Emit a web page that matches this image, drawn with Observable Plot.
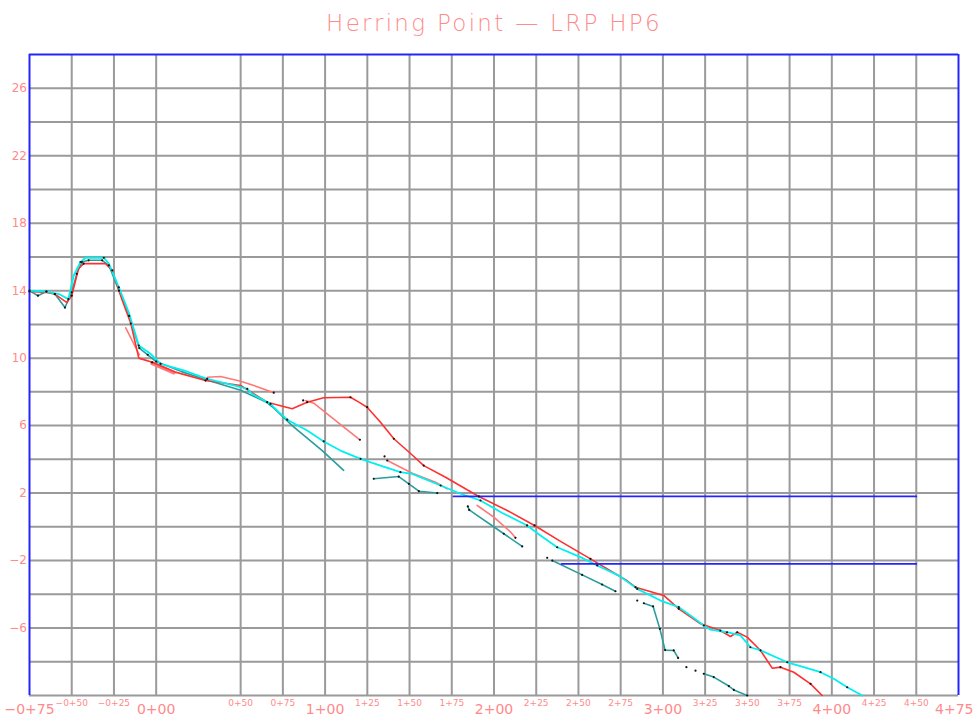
<!DOCTYPE html>
<html>
<head>
<meta charset="utf-8">
<script src="https://cdn.jsdelivr.net/npm/d3@7"></script>
<script src="https://cdn.jsdelivr.net/npm/@observablehq/plot@0.6"></script>
<style>
  html, body { margin: 0; padding: 0; background: #fff; }
  #chart svg { display: block; }
</style>
</head>
<body>
<div id="chart"></div>
<script>
// ---- data (station in ft, elevation in ft) ----
const titleText = "Herring Point — LRP HP6";

const xMajorTicks = [-75, 0, 100, 200, 300, 400];
const xEndTick = [475];
const xMinorTicks = [-50, -25, 50, 75, 125, 150, 175, 225, 250, 275, 325, 350, 375, 425, 450];
const xGridTicks = [-50, -25, 0, 50, 75, 100, 125, 150, 175, 200, 225, 250, 275, 300, 325, 350, 375, 400, 425, 450];
const yLabelTicks = [26, 22, 18, 14, 10, 6, 2, -2, -6];
const yGridTicks = [-10, -8, -6, -4, -2, 0, 2, 4, 6, 8, 10, 12, 14, 16, 18, 20, 22, 24, 26];

const redProfile = [[-75,13.95],[-65,13.9],[-60,13.8],[-53,13.3],[-50,13.7],[-46,15.3],[-43,15.6],[-30,15.6],[-26,15.2],[-20,13.4],[-15,12.05],[-10.3,10.0],[-2.4,9.75],[11.4,9.17],[29.2,8.67],[50,8.38],[65.7,7.39],[80.5,7.0],[89.4,7.39],[99.2,7.65],[115,7.68],[120,7.39],[124.9,7.09],[132.8,6.2],[140.7,5.22],[150.1,4.39],[158.4,3.63],[171.3,2.94],[191,1.8],[207.8,0.97],[224,0.08],[239.4,-0.86],[257.1,-1.9],[278.8,-3.2],[283.8,-3.58],[300.5,-4.07],[309.4,-4.86],[322.3,-5.75],[334,-6.15],[340,-6.5],[344,-6.25],[349.9,-6.54],[357.8,-7.33],[364.7,-8.38],[369.6,-8.32],[377.5,-8.62],[387.4,-9.31],[394.3,-10]];

const cyanProfile = [[-75,14.0],[-65,13.95],[-57.6,13.8],[-52,13.5],[-48.8,14.9],[-44.8,15.7],[-41.8,15.95],[-31,15.95],[-28,15.6],[-22.1,14.2],[-16.2,12.7],[-10.3,10.75],[-3.4,10.26],[2.6,9.66],[16.3,9.27],[30.2,8.77],[46,8.38],[53.9,8.18],[56.8,7.88],[67.7,7.29],[72.6,6.8],[77.6,6.35],[89.4,5.71],[99.2,5.06],[109.1,4.52],[121,4.03],[132.8,3.63],[144.6,3.24],[151.6,3.14],[168.4,2.45],[180.2,1.96],[192,1.56],[204.9,0.82],[219.6,0.08],[227.5,-0.52],[237.4,-1.21],[251.2,-1.8],[261.1,-2.29],[273.9,-2.89],[284.8,-3.68],[298.6,-4.37],[309.4,-4.76],[316.3,-5.26],[324.2,-5.85],[328.2,-6.1],[338,-6.25],[345.9,-6.44],[351.8,-7.14],[357.8,-7.33],[373.6,-8.03],[383.4,-8.32],[393.3,-8.62],[401.2,-9.01],[409.1,-9.51],[418,-10]];

const tealProfile1 = [[-75,14.0],[-70,13.7],[-65,13.95],[-60,13.8],[-54,13.0],[-50,13.9],[-47,15.0],[-44,15.7],[-40,15.8],[-32,15.8],[-28,15.5],[-22,14.0],[-16,12.5],[-10,10.6],[-5,10.2],[0,9.8],[15,9.2],[30,8.7],[50,8.1],[65,7.4],[70,7.0],[80.5,6.0],[98.3,4.52],[111,3.35]];
const tealProfile2 = [[128.8,2.85],[143.6,2.98],[149.6,2.55],[155.5,2.11],[166.4,2.0]];
const tealProfile3 = [[184.5,1.21],[185.3,1.0],[205.8,-0.41],[216.7,-1.16]];
const tealProfile4 = [[234.5,-2.0],[252.2,-2.85],[264,-3.42],[271.9,-3.82]];
const tealProfile5 = [[288.7,-4.53],[294.2,-4.72],[298.2,-6.05],[301.3,-7.31],[306.4,-7.33],[309,-7.77]];
const tealProfile6 = [[324.2,-8.71],[330.1,-8.91],[339,-9.44],[342,-9.67],[349.9,-10.0]];

const pinkProfile1 = [[-18,11.8],[-10,10.2]];
const pinkProfile2 = [[-2.4,9.7],[10.4,9.15]];
const pinkProfile3 = [[30.2,8.87],[38.1,8.91],[50,8.63],[57.8,8.38],[69.6,7.95]];
const pinkProfile4 = [[88.4,7.49],[93.3,7.33],[104.2,6.46],[120.6,5.16]];
const pinkProfile5 = [[136.8,3.93],[151.6,3.18],[165.4,2.64],[172.3,2.25]];
const pinkProfile6 = [[190,1.27],[192,1.13],[199.9,0.57],[209.8,-0.31],[212.7,-0.65]];

const loneDots = [[87,7.49],[135.2,4.17],[231.5,-1.84],[284.8,-4.37],[313.9,-8.32],[319.3,-8.53]];

const blueLine1 = [[176,1.8],[450,1.8]];
const blueLine2 = [[240,-2.2],[450,-2.2]];

// ---- styles ----
const RED = "#ff3030", CYAN = "#00f0f0", TEAL = "#2a9d9d", PINK = "#ff7878", BLUE = "#2424ff", GRID = "#9a9a9a", LABEL = "#ff8a8a";

const fmtSta = v => {
  const a = Math.abs(v);
  const s = Math.floor(a / 100) + "+" + String(a % 100).padStart(2, "0");
  return v < 0 ? "\u2212" + s : s;
};
const fmtY = v => v < 0 ? "\u2212" + Math.abs(v) : String(v);

const X = d => d[0], Y = d => d[1];
const line = (pts, stroke, w) => Plot.line(pts, {x: X, y: Y, stroke, strokeWidth: w, strokeLinejoin: "round", strokeLinecap: "round"});

const tealSets = [tealProfile1, tealProfile2, tealProfile3, tealProfile4, tealProfile5, tealProfile6];
const pinkSets = [pinkProfile1, pinkProfile2, pinkProfile3, pinkProfile4, pinkProfile5, pinkProfile6];
const dotPts = [].concat(tealProfile1.slice(0, 16), tealProfile2, tealProfile3, tealProfile4, tealProfile5, tealProfile6,
  redProfile.filter((d, i) => i % 2 === 0), cyanProfile.filter((d, i) => i % 2 === 1), loneDots,
  [pinkProfile3[4], pinkProfile4[3], pinkProfile5[0], pinkProfile6[4]]);

const chart = Plot.plot({
  width: 974,
  height: 717,
  marginLeft: 29,
  marginRight: 16,
  marginTop: 54,
  marginBottom: 22,
  style: {fontFamily: "'DejaVu Sans', sans-serif", background: "#fff"},
  x: {domain: [-75, 475], axis: null},
  y: {domain: [-10, 28], axis: null},
  marks: [
    Plot.ruleY(yGridTicks, {stroke: GRID, strokeWidth: 2}),
    Plot.ruleX(xGridTicks, {stroke: GRID, strokeWidth: 2}),
    Plot.ruleY([28], {stroke: BLUE, strokeWidth: 2}),
    Plot.ruleX([-75, 475], {stroke: BLUE, strokeWidth: 2}),
    ...pinkSets.map((p, i) => line(p, PINK, i === 1 ? 4 : 1.6)),
    ...tealSets.map(p => line(p, TEAL, 1.6)),
    line(redProfile, RED, 1.6),
    line(cyanProfile, CYAN, 1.8),
    line(blueLine1, BLUE, 1.8),
    line(blueLine2, BLUE, 1.8),
    Plot.dot(dotPts, {x: X, y: Y, r: 1.1, fill: "#111", stroke: null}),
    Plot.text(yLabelTicks, {y: d => d, frameAnchor: "left", dx: -2.5, textAnchor: "end", text: fmtY, fill: LABEL, fontSize: 12}),
    Plot.text(xMajorTicks, {x: d => d, frameAnchor: "bottom", dy: 14, lineAnchor: "middle", text: fmtSta, fill: LABEL, fontSize: 14}),
    Plot.text(xEndTick, {x: d => d, frameAnchor: "bottom", dy: 14, dx: 15, textAnchor: "end", lineAnchor: "middle", text: fmtSta, fill: LABEL, fontSize: 14}),
    Plot.text(xMinorTicks, {x: d => d, frameAnchor: "bottom", dy: 7.5, lineAnchor: "middle", text: fmtSta, fill: LABEL, fontSize: 9}),
    Plot.text([titleText], {frameAnchor: "top", dy: -31, lineAnchor: "middle", text: d => d, fill: LABEL, fontSize: 23, fontWeight: 200})
  ]
});
d3.select(chart).selectAll("text").filter(function () { return this.textContent === titleText; })
  .style("letter-spacing", "2.3px");
document.getElementById("chart").appendChild(chart);
</script>
</body>
</html>
